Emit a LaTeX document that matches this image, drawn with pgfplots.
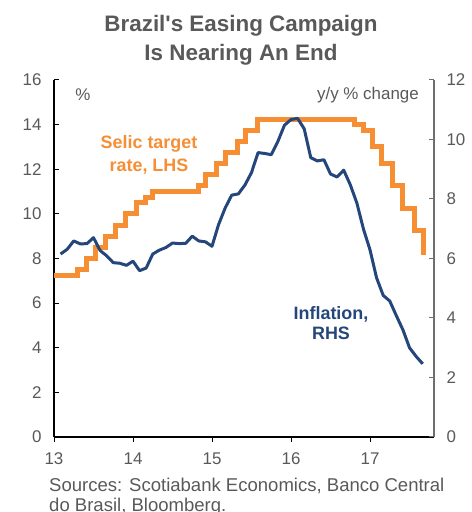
\documentclass[border=0pt]{standalone}
\usepackage{fontspec}
\setmainfont{Liberation Sans}
\usepackage{pgfplots}
\pgfplotsset{compat=1.18}

\definecolor{selic}{HTML}{F68E33}
\definecolor{infl}{HTML}{24467A}
\definecolor{txt}{HTML}{595959}
\definecolor{raxis}{HTML}{6E6E6E}

\begin{document}
\begin{tikzpicture}
\path[use as bounding box] (0bp,0bp) rectangle (472bp,512bp);

% left axis: Selic target rate (%)
\begin{axis}[
    at={(54bp,75bp)}, anchor=south west,
    scale only axis, width=380bp, height=357bp,
    xmin=13, xmax=17.81, ymin=0, ymax=16,
    axis x line*=bottom, axis y line*=left,
    axis line style={black, line width=1.6bp, -},
    xtick={13,14,15,16,17}, ytick={0,2,...,16},
    xtick align=outside, ytick align=inside,
    major tick length=5bp,
    tick style={black, line width=1bp},
    ticklabel style={font=\fontsize{17}{19}\selectfont, text=txt},
    /pgf/number format/assume math mode=true,
    xticklabel style={yshift=-7bp},
    yticklabel style={xshift=-9bp},
    clip=false,
]
\addplot[const plot, color=selic, line width=5bp] coordinates {
    (13.000, 7.25) (13.293, 7.50) (13.408, 8.00) (13.523, 8.50)
    (13.658, 9.00) (13.773, 9.50) (13.907, 10.00)
    (14.041, 10.50) (14.156, 10.75) (14.252, 11.00)
    (14.827, 11.25) (14.923, 11.75)
    (15.058, 12.25) (15.173, 12.75) (15.326, 13.25)
    (15.422, 13.75) (15.575, 14.25)
    (16.801, 14.00) (16.915, 13.75)
    (17.030, 13.00) (17.145, 12.25) (17.279, 11.25)
    (17.414, 10.25) (17.567, 9.25) (17.682, 8.25) (17.710, 8.25)
};
\end{axis}

% right axis: inflation (y/y % change)
\begin{axis}[
    at={(54bp,75bp)}, anchor=south west,
    scale only axis, width=380bp, height=357bp,
    xmin=13, xmax=17.81, ymin=0, ymax=12,
    axis x line=none, axis y line*=right,
    axis line style={raxis, line width=1.6bp, -},
    ytick={0,2,...,12}, ytick align=inside,
    major tick length=5bp,
    tick style={raxis, line width=1bp},
    ticklabel style={font=\fontsize{17}{19}\selectfont, text=txt},
    /pgf/number format/assume math mode=true,
    yticklabel style={xshift=9bp},
    clip=false,
]
\addplot[color=infl, line width=3bp, line join=round] coordinates {
    (13.083, 6.15) (13.167, 6.31) (13.250, 6.59) (13.333, 6.49)
    (13.417, 6.50) (13.500, 6.70) (13.583, 6.27) (13.667, 6.09)
    (13.750, 5.86) (13.833, 5.84) (13.917, 5.77) (14.000, 5.91)
    (14.083, 5.59) (14.167, 5.68) (14.250, 6.15) (14.333, 6.28)
    (14.417, 6.37) (14.500, 6.52) (14.583, 6.50) (14.667, 6.51)
    (14.750, 6.75) (14.833, 6.59) (14.917, 6.56) (15.000, 6.41)
    (15.083, 7.14) (15.167, 7.70) (15.250, 8.13) (15.333, 8.17)
    (15.417, 8.47) (15.500, 8.89) (15.583, 9.56) (15.667, 9.53)
    (15.750, 9.49) (15.833, 9.93) (15.917, 10.48) (16.000, 10.67)
    (16.083, 10.71) (16.167, 10.36) (16.250, 9.39) (16.333, 9.28)
    (16.417, 9.32) (16.500, 8.84) (16.583, 8.74) (16.667, 8.97)
    (16.750, 8.48) (16.833, 7.87) (16.917, 6.99) (17.000, 6.29)
    (17.083, 5.35) (17.167, 4.76) (17.250, 4.57) (17.333, 4.08)
    (17.417, 3.60) (17.500, 3.00) (17.583, 2.71) (17.667, 2.46)
};
\end{axis}

% titles and labels
\node[font=\bfseries\fontsize{22.5}{29}\selectfont, text=txt, align=center]
    at (241bp,471.5bp) {Brazil\textquotesingle s Easing Campaign\\Is Nearing An End};
\node[font=\fontsize{17}{20}\selectfont, text=txt] at (83bp,417bp) {\%};
\node[font=\fontsize{17}{20}\selectfont, text=txt, anchor=east, inner sep=0pt]
    at (419bp,417bp) {y/y \% change};
\node[font=\bfseries\fontsize{18}{23}\selectfont, text=selic, align=center]
    at (149bp,357.5bp) {Selic target\\rate, LHS};
\node[font=\bfseries\fontsize{18}{20.5}\selectfont, text=infl, align=center]
    at (331bp,189bp) {Inflation,\\RHS};
\node[font=\fontsize{18.6}{20}\selectfont, text=txt, align=left, anchor=north west, inner sep=0pt]
    at (49bp,34bp) {Sources: Scotiabank Economics, Banco Central\\do Brasil, Bloomberg.};
\end{tikzpicture}
\end{document}
